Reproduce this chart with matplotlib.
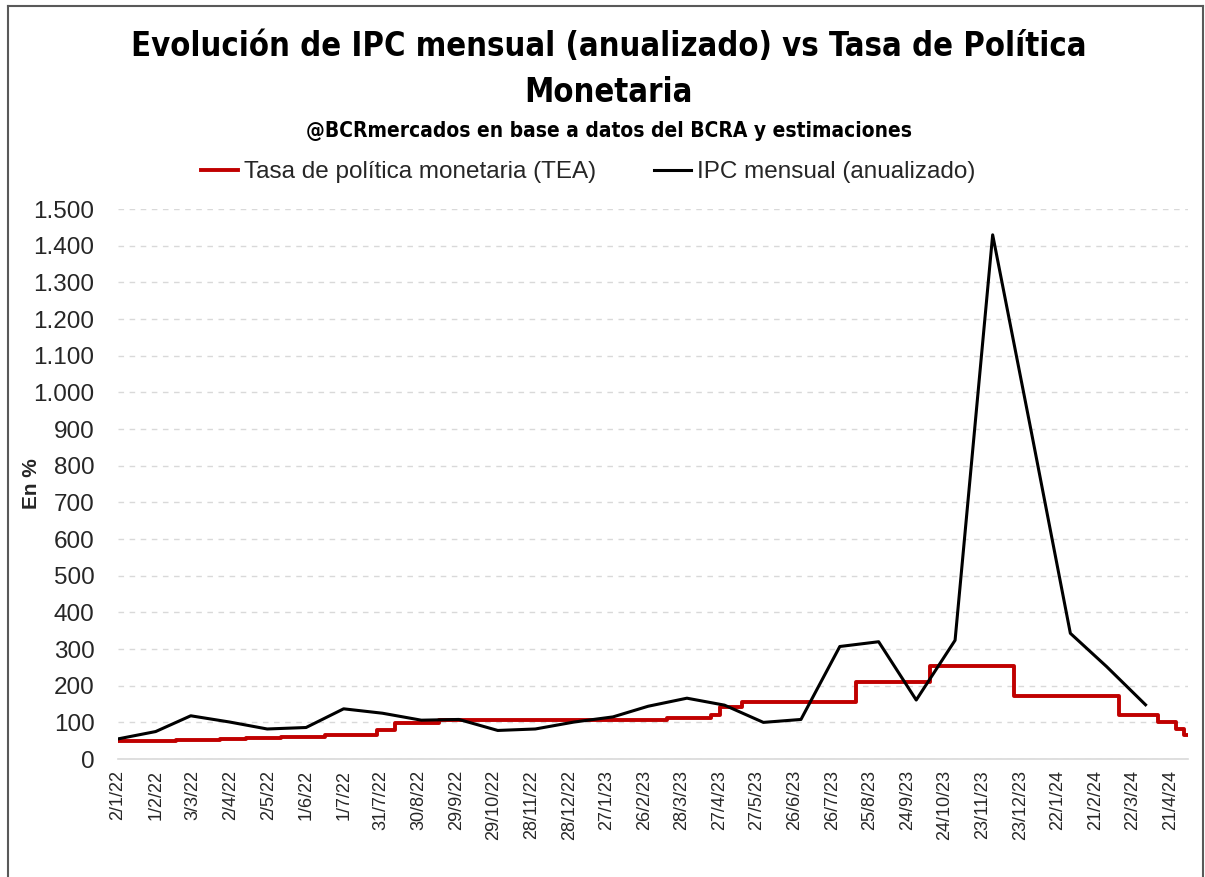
import matplotlib
matplotlib.use("Agg")
import matplotlib.pyplot as plt
import matplotlib.ticker as mticker
import pandas as pd

# ── datos ─────────────────────────────────────────
tpm_fechas = ["2022-01-02", "2022-02-17", "2022-03-24", "2022-04-14", "2022-05-12",
              "2022-06-16", "2022-07-28", "2022-08-11", "2022-09-15", "2023-03-16",
              "2023-04-20", "2023-04-27", "2023-05-15", "2023-08-14", "2023-10-12",
              "2023-12-18", "2024-03-11", "2024-04-11", "2024-04-25", "2024-05-02",
              "2024-05-05"]
tpm_valores = [48, 52, 55, 58, 61, 66, 80, 97, 107, 113,
               119, 141, 155, 209, 255, 172, 120, 101, 82, 66, 66]

ipc_fechas = ["2022-01-02", "2022-02-01", "2022-03-01", "2022-04-01", "2022-05-01",
              "2022-06-01", "2022-07-01", "2022-08-01", "2022-09-01", "2022-10-01",
              "2022-11-01", "2022-12-01", "2023-01-01", "2023-02-01", "2023-03-01",
              "2023-04-01", "2023-05-01", "2023-06-01", "2023-07-01", "2023-08-01",
              "2023-09-01", "2023-10-01", "2023-11-01", "2023-12-01", "2024-01-01",
              "2024-02-01", "2024-03-01", "2024-04-01"]
ipc_valores = [55, 75, 118, 101, 82, 86, 137, 125, 106, 108,
               78, 82, 101, 115, 144, 166, 147, 100, 108, 307,
               320, 161, 324, 1430, 890, 343, 252, 148]

tick_inicio = "2022-01-02"
tick_fin = "2024-04-21"

ROJO = "#C00000"
NEGRO = "#000000"
GRIS = "#D9D9D9"
TXT = "#262626"

plt.rcParams["font.family"] = ["Liberation Sans", "DejaVu Sans"]

fig = plt.figure(figsize=(12.05, 8.77), dpi=100)
fig.patch.set_facecolor("white")
ax = fig.add_axes([0.098, 0.1345, 0.888, 0.627])

t_f = pd.to_datetime(tpm_fechas)
i_f = pd.to_datetime(ipc_fechas)

ax.step(t_f, tpm_valores, where="post", color=ROJO, lw=2.8,
        label="Tasa de política monetaria (TEA)", zorder=3)
ax.plot(i_f, ipc_valores, color=NEGRO, lw=2.2,
        label="IPC mensual (anualizado)", zorder=4)

ax.set_ylim(0, 1500)
ax.set_xlim(t_f[0], t_f[-1])
ax.yaxis.set_major_locator(mticker.MultipleLocator(100))
ax.yaxis.set_major_formatter(
    mticker.FuncFormatter(lambda v, p: f"{int(v):,}".replace(",", ".")))

ticks = pd.date_range(tick_inicio, tick_fin, freq="30D")
ax.set_xticks(ticks)
ax.set_xticklabels([f"{d.day}/{d.month}/{d.strftime('%y')}" for d in ticks],
                   rotation=90, fontsize=13, color=TXT)
ax.tick_params(axis="y", labelsize=17.5, colors=TXT, length=0, pad=17)
ax.tick_params(axis="x", length=0, pad=8)

ax.grid(axis="y", color=GRIS, ls=(0, (4, 4)), lw=1)
for s in ["left", "right", "top"]:
    ax.spines[s].set_visible(False)
ax.spines["bottom"].set_color(GRIS)
ax.spines["bottom"].set_linewidth(1.2)

ax.set_ylabel("En %", fontsize=15, fontweight="bold", color=TXT)
ax.yaxis.set_label_coords(-0.072, 0.5)

# títulos
fig.text(0.505, 1 - 69 / 877,
         "Evolución de IPC mensual (anualizado) vs Tasa de Política\nMonetaria",
         ha="center", va="center", fontsize=23.5, fontweight="heavy",
         family="DejaVu Sans", fontstretch="condensed", linespacing=1.5)
fig.text(0.505, 1 - 131 / 877,
         "@BCRmercados en base a datos del BCRA y estimaciones",
         ha="center", va="center", fontsize=15, fontweight="bold",
         family="DejaVu Sans", fontstretch="condensed")

fig.legend(loc="center", bbox_to_anchor=(0.488, 1 - 172 / 877), ncol=2,
           frameon=False, fontsize=17.5, handlelength=1.5, handletextpad=0.25,
           columnspacing=2.4, labelcolor=TXT)

# marco
for xs, ys in [([0.007, 0.998], [0.993, 0.993]),
               ([0.007, 0.007], [0.0, 0.993]),
               ([0.998, 0.998], [0.0, 0.993])]:
    fig.add_artist(plt.Line2D(xs, ys, color="#595959", lw=1.5))

plt.savefig("out.png", dpi=100, facecolor="white")
